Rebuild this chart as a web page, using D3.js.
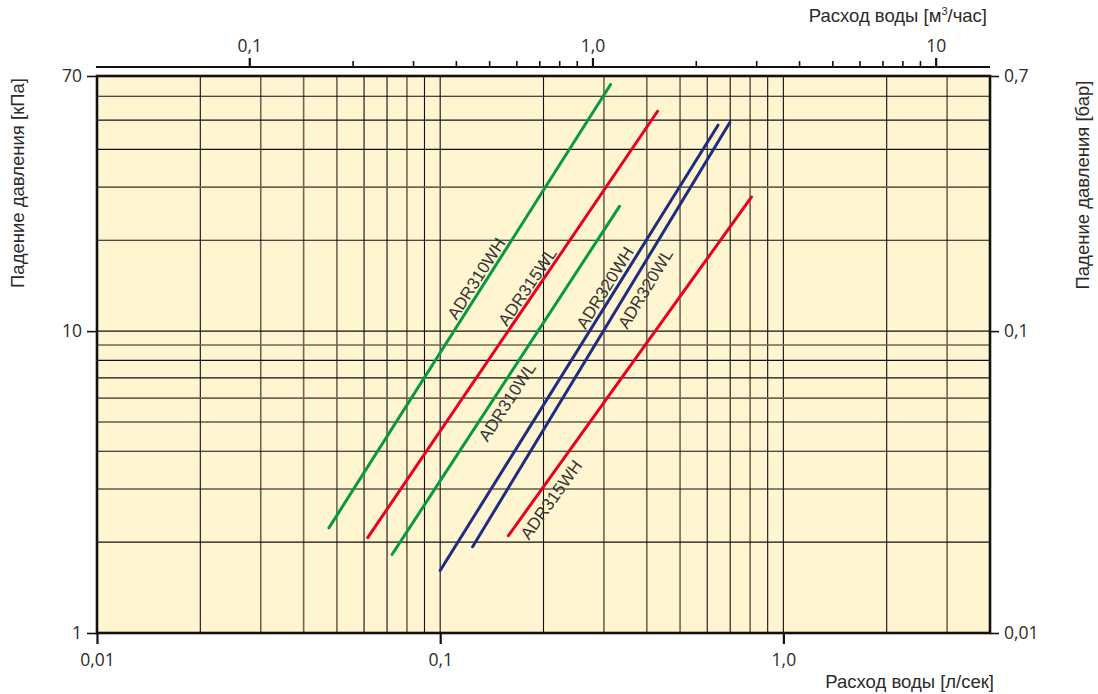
<!DOCTYPE html>
<html>
<head>
<meta charset="utf-8">
<script src="https://cdn.jsdelivr.net/npm/d3@7"></script>
<style>
  body { margin: 0; background: #fff; }
  text { fill: #2b2b2b; }
  .title { font-family: "Liberation Sans", Arial, sans-serif; font-size: 18.5px; }
  .lbl { font-family: "Liberation Sans", Arial, sans-serif; font-size: 17px; fill: #333; }
</style>
</head>
<body>
<div id="chart"></div>
<script>
// расход, л/сек и падение давления, кПа (концы прямых)
const series = ["ADR310WH", "ADR315WL", "ADR310WL", "ADR320WH", "ADR320WL", "ADR315WH"]
const seriesColor = ["#079a3e", "#e8001e", "#079a3e", "#1e2d80", "#1e2d80", "#e8001e"]
const flowStart = [0.0474, 0.0615, 0.0724, 0.100, 0.1243, 0.158]
const flowEnd = [0.3137, 0.430, 0.333, 0.645, 0.698, 0.807]
const dropStart = [2.23, 2.07, 1.82, 1.61, 1.93, 2.10]
const dropEnd = [65.6, 53.5, 25.9, 48.1, 49.1, 27.8]
// где стоит подпись каждой прямой
const labelFlow = [0.1277, 0.180, 0.157, 0.303, 0.397, 0.211]
const labelDrop = [14.9, 14.0, 5.82, 13.9, 13.8, 2.76]

const flowGrid = [0.02, 0.03, 0.04, 0.05, 0.06, 0.07, 0.08, 0.09, 0.1,
                  0.2, 0.3, 0.4, 0.5, 0.6, 0.7, 0.8, 0.9, 1, 2, 3]
const dropGrid = [2, 3, 4, 5, 6, 7, 8, 9, 10, 20, 30, 40, 50, 60]
const flowTicks = [0.01, 0.1, 1]
const flowTickLabels = ["0,01", "0,1", "1,0"]
const m3Ticks = [0.1, 1, 10]
const m3TickLabels = ["0,1", "1,0", "10"]
const m3Minor = [0.2, 0.3, 0.4, 0.5, 0.6, 0.7, 0.8, 0.9, 2, 3, 4, 5, 6, 7, 8, 9]
const dropTicks = [1, 10, 70]
const dropTickLabels = ["1", "10", "70"]
const barTickLabels = ["0,01", "0,1", "0,7"]

const W = 1098, H = 694
const pLeft = 97, pRight = 990, pTop = 76, pBottom = 633

const svg = d3.select("#chart").append("svg")
    .attr("width", W).attr("height", H)

const x = d3.scaleLog().domain([0.01, 4]).range([pLeft, pRight])
const xm3 = d3.scaleLog().domain([0.01 * 3.6, 4 * 3.6]).range([pLeft, pRight])
const y = d3.scaleLog().domain([1, 70]).range([pBottom, pTop])

svg.append("rect")
    .attr("x", pLeft).attr("y", pTop)
    .attr("width", pRight - pLeft).attr("height", pBottom - pTop)
    .attr("fill", "#fff5d0")

// сетка
const grey = v => [3, 4, 5, 8].includes(Math.round(v / Math.pow(10, Math.floor(Math.log10(v) + 1e-9))))
svg.append("g").selectAll("line")
    .data(flowGrid).enter().append("line")
    .attr("x1", d => x(d)).attr("x2", d => x(d))
    .attr("y1", pTop).attr("y2", pBottom)
    .attr("stroke", d => grey(d) ? "#6e6652" : "#111")
    .attr("stroke-width", d => grey(d) ? 1.6 : 1.1)

svg.append("g").selectAll("line")
    .data(dropGrid).enter().append("line")
    .attr("x1", pLeft).attr("x2", pRight)
    .attr("y1", d => y(d)).attr("y2", d => y(d))
    .attr("stroke", d => d == 30 || d == 9 || d == 6 ? "#6e6652" : "#111")
    .attr("stroke-width", d => d == 30 || d == 9 || d == 6 ? 1.6 : 1.1)

svg.append("rect")
    .attr("x", pLeft).attr("y", pTop)
    .attr("width", pRight - pLeft).attr("height", pBottom - pTop)
    .attr("fill", "none").attr("stroke", "#111").attr("stroke-width", 2.6)

// прямые
const lines = series.map((s, i) => ({
    name: s, color: seriesColor[i],
    pts: [[flowStart[i], dropStart[i]], [flowEnd[i], dropEnd[i]]],
    lf: labelFlow[i], ld: labelDrop[i]
}))

const line = d3.line().x(d => x(d[0])).y(d => y(d[1]))

svg.append("g").selectAll("path")
    .data(lines).enter().append("path")
    .attr("d", d => line(d.pts))
    .attr("fill", "none")
    .attr("stroke", d => d.color)
    .attr("stroke-width", 3)
    .attr("stroke-linecap", "round")

svg.append("g").selectAll("text")
    .data(lines).enter().append("text")
    .attr("class", "lbl")
    .attr("text-anchor", "middle")
    .attr("dominant-baseline", "central")
    .attr("transform", d => {
        const dx = x(d.pts[1][0]) - x(d.pts[0][0])
        const dy = y(d.pts[1][1]) - y(d.pts[0][1])
        const a = Math.atan2(dy, dx) * 180 / Math.PI
        return "translate(" + x(d.lf) + "," + y(d.ld) + ") rotate(" + a + ")"
    })
    .text(d => d.name)

// оси
const axB = svg.append("g")
    .attr("transform", "translate(0," + pBottom + ")")
    .call(d3.axisBottom(x).tickValues(flowTicks).tickSize(11).tickPadding(10)
        .tickFormat((d, i) => flowTickLabels[i]))
axB.select(".domain").remove()

const axL = svg.append("g")
    .attr("transform", "translate(" + pLeft + ",0)")
    .call(d3.axisLeft(y).tickValues(dropTicks).tickSize(10).tickPadding(5)
        .tickFormat((d, i) => dropTickLabels[i]))
axL.select(".domain").remove()

const axR = svg.append("g")
    .attr("transform", "translate(" + pRight + ",0)")
    .call(d3.axisRight(y).tickValues(dropTicks).tickSize(9).tickPadding(5)
        .tickFormat((d, i) => barTickLabels[i]))
axR.select(".domain").remove()

const axT = svg.append("g")
    .attr("transform", "translate(0,67)")
    .call(d3.axisTop(xm3).tickValues(m3Ticks).tickSize(9).tickPadding(6)
        .tickFormat((d, i) => m3TickLabels[i]))
axT.select(".domain").remove()

svg.append("g")
    .attr("transform", "translate(0,67)")
    .call(d3.axisTop(xm3).tickValues(m3Minor).tickSize(6).tickFormat(""))
    .select(".domain").remove()

svg.append("line")
    .attr("x1", pLeft - 1).attr("x2", pRight)
    .attr("y1", 67).attr("y2", 67)
    .attr("stroke", "#111").attr("stroke-width", 2.2)

svg.selectAll(".tick line").attr("stroke", "#111").attr("stroke-width", 1.6)
axT.selectAll(".tick line").attr("stroke-width", 2.2)
axB.selectAll(".tick line").attr("stroke-width", 2.2)

svg.selectAll(".tick text")
    .attr("font-family", "'Open Sans', sans-serif")
    .attr("font-size", 17.5)
    .attr("fill", "#2b2b2b")
    .style("font-size", "17.5px")
    .style("font-family", "'Open Sans', sans-serif")

// подписи осей
svg.append("text").attr("class", "title")
    .attr("x", 987).attr("y", 22).attr("text-anchor", "end")
    .html("Расход воды [м<tspan dy='-7' font-size='11'>3</tspan><tspan dy='7'>/час]</tspan>")

svg.append("text").attr("class", "title")
    .attr("x", 994).attr("y", 688).attr("text-anchor", "end")
    .text("Расход воды [л/сек]")

svg.append("text").attr("class", "title")
    .attr("transform", "translate(24,183) rotate(-90)")
    .attr("text-anchor", "middle")
    .text("Падение давления [кПа]")

svg.append("text").attr("class", "title")
    .attr("transform", "translate(1089,185) rotate(-90)")
    .attr("text-anchor", "middle")
    .text("Падение давления [бар]")
</script>
</body>
</html>
